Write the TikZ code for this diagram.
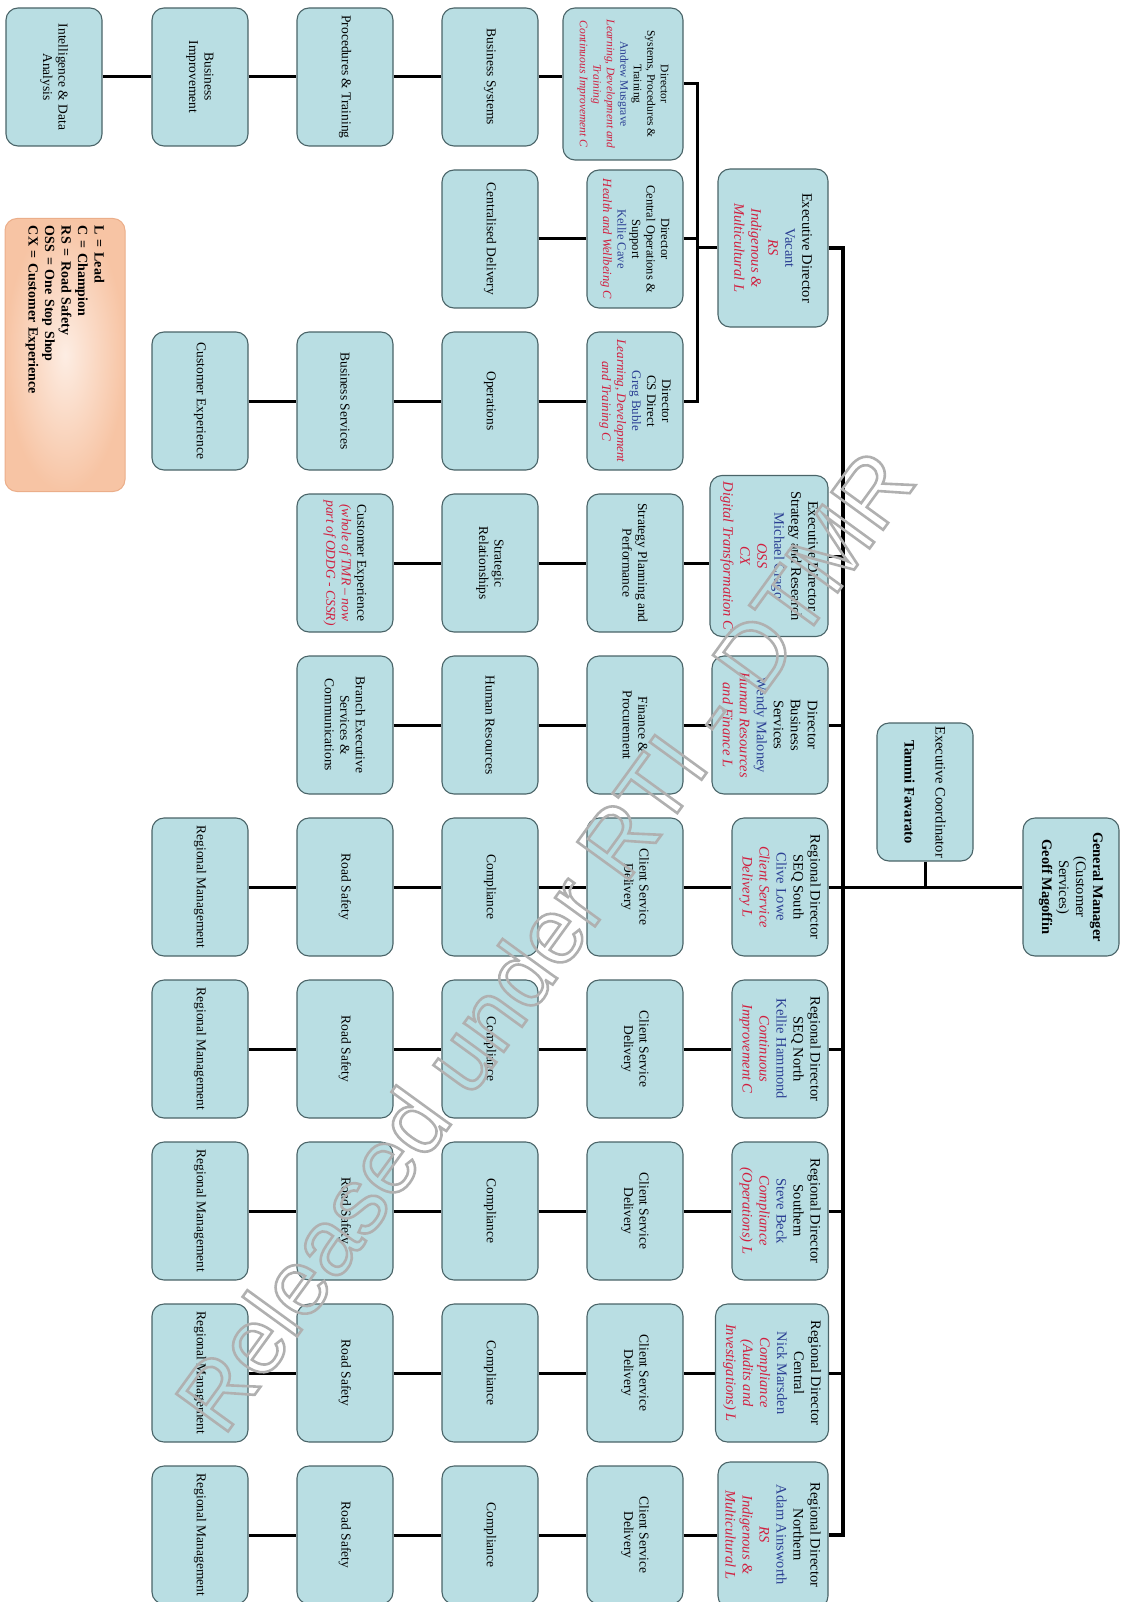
\documentclass[tikz,border=0pt]{standalone}
\usepackage{fontspec}
\setmainfont{Liberation Serif}
\newfontfamily\wmfont{Liberation Sans}
\definecolor{boxfill}{HTML}{B9DEE3}
\definecolor{edge}{HTML}{4A6468}
\definecolor{nameblue}{HTML}{2B3F93}
\definecolor{dutyred}{HTML}{D11F3F}
\definecolor{keylite}{HTML}{FDEDE3}
\definecolor{keydark}{HTML}{F7C4A4}
\definecolor{keyedge}{HTML}{EBAE8A}
\definecolor{wmgray}{HTML}{B0B0B0}
\newcommand{\who}[1]{\textcolor{nameblue}{#1}}
\newcommand{\duty}[1]{\textcolor{dutyred}{\itshape #1}}
\newcommand{\outlined}[1]{\special{pdf:literal direct 1 Tr 2.6 w}#1\special{pdf:literal direct 0 Tr}}
\tikzset{unit/.style={draw=edge,line width=1.1pt,fill=boxfill,rounded corners=12pt,rotate=-90,align=center,minimum width=138pt,minimum height=96pt,inner sep=3pt,font=\fontsize{13.5}{15.5}\selectfont},head/.style={unit,font=\fontsize{14.5}{17}\selectfont},link/.style={line width=3pt},trunk/.style={line width=4pt},keybox/.style={draw=keyedge,line width=1pt,rounded corners=12pt,inner color=keylite,outer color=keydark,rotate=-90,minimum width=273pt,minimum height=120pt,text width=258pt,align=left,font=\bfseries\fontsize{14}{16.5}\selectfont},wmark/.style={rotate=54,text=wmgray,font=\wmfont\fontsize{93}{93}\selectfont}}

\begin{document}
\begin{tikzpicture}[x=1pt,y=-1pt]
\useasboundingbox (0,0) rectangle (1121,1602);
\coordinate (spine) at (843,0);
\coordinate (sub) at (697,0);

\node[head] (gm) at (1071,887) {\textbf{General Manager}\\(Customer\\Services)\\\textbf{Geoff Magoffin}};
\node[head] (ec) at (925,792) {Executive Coordinator\\[14pt]\textbf{Tammi Favarato}};

\node[head,minimum width=158pt,minimum height=110pt] (edvac) at (773,248) {Executive Director\\\who{Vacant}\\\duty{RS}\\\duty{Indigenous \&}\\\duty{Multicultural L}};
\node[head,minimum width=161pt,minimum height=118pt] (edstr) at (769,556) {Executive Director\\Strategy and Research\\\who{Michael Crago}\\\duty{OSS}\\\duty{CX}\\\duty{Digital Transformation C}};
\node[head,minimum height=116pt] (dirbs) at (770,725) {Director\\Business\\Services\\\who{Wendy Maloney}\\\duty{Human Resources}\\\duty{and Finance L}};
\node[head] (rd6) at (780,887) {Regional Director\\SEQ South\\\who{Clive Lowe}\\\duty{Client Service}\\\duty{Delivery L}};
\node[head] (rd7) at (780,1049) {Regional Director\\SEQ North\\\who{Kellie Hammond}\\\duty{Continuous}\\\duty{Improvement C}};
\node[head] (rd8) at (780,1211) {Regional Director\\Southern\\\who{Steve Beck}\\\duty{Compliance}\\\duty{(Operations) L}};
\node[head,minimum height=113pt] (rd9) at (772,1373) {Regional Director\\Central\\\who{Nick Marsden}\\\duty{Compliance}\\\duty{(Audits and}\\\duty{Investigations) L}};
\node[head,minimum width=146pt,minimum height=110pt] (rd10) at (773,1535) {Regional Director\\Northern\\\who{Adam Ainsworth}\\\duty{RS}\\\duty{Indigenous \&}\\\duty{Multicultural L}};

\node[head,font=\fontsize{11.5}{13.5}\selectfont,minimum width=152pt,minimum height=120pt] (dirsys) at (623,84) {Director\\Systems, Procedures \&\\Training\\\who{Andrew Musgrave}\\\duty{Learning, Development and}\\\duty{Training}\\\duty{Continuous Improvement C}};
\node[head,font=\fontsize{12.5}{14.5}\selectfont] (dircos) at (635,239) {Director\\Central Operations \&\\Support\\\who{Kellie Cave}\\\duty{Health and Wellbeing C}};
\node[head,font=\fontsize{13}{15}\selectfont] (dircsd) at (635,401) {Director\\CS Direct\\\who{Greg Buble}\\\duty{Learning, Development}\\\duty{and Training C}};

\node[unit] (stratpl) at (635,563) {Strategy Planning and\\Performance};
\node[unit] (finpro) at (635,725) {Finance \&\\Procurement};
\node[unit] (bussys) at (490,77) {Business Systems};
\node[unit] (proctr) at (345,77) {Procedures \& Training};
\node[unit] (busimp) at (200,77) {Business\\Improvement};
\node[unit] (intel) at (54,77) {Intelligence \& Data\\Analysis};
\node[unit] (centdel) at (490,239) {Centralised Delivery};
\node[unit] (ops) at (490,401) {Operations};
\node[unit] (bussrv) at (345,401) {Business Services};
\node[unit] (custx) at (200,401) {Customer Experience};
\node[unit] (stratrel) at (490,563) {Strategic\\Relationships};
\node[unit] (custwhole) at (345,563) {Customer Experience\\\duty{(whole of TMR -- now}\\\duty{part of ODDG - CSSR)}};
\node[unit] (hr) at (490,725) {Human Resources};
\node[unit] (branch) at (345,725) {Branch Executive\\Services \&\\Communications};

\foreach \k/\y in {6/887,7/1049,8/1211,9/1373,10/1535}{
  \node[unit] (csd\k) at (635,\y) {Client Service\\Delivery};
  \node[unit] (comp\k) at (490,\y) {Compliance};
  \node[unit] (rs\k) at (345,\y) {Road Safety};
  \node[unit] (rm\k) at (200,\y) {Regional Management};
  \draw[link] (rm\k) -- (rs\k) -- (comp\k) -- (csd\k) -- (rd\k);
}

\foreach \a/\b in {dirsys/bussys,bussys/proctr,proctr/busimp,busimp/intel,dircos/centdel,dircsd/ops,ops/bussrv,bussrv/custx,edstr/stratpl,stratpl/stratrel,stratrel/custwhole,dirbs/finpro,finpro/hr,hr/branch}
  \draw[link] (\b) -- (\b -| \a.south);

\draw[trunk] (edvac.north) -| (spine |- rd10.north) -- (rd10.north);
\foreach \n in {edstr,dirbs,rd6,rd7,rd8,rd9}
  \draw[link] (\n.north) -- (\n.north -| spine);
\draw[link] (gm.south) -- (gm.south -| spine);
\draw[link] (ec.east) -- (ec.east |- gm.south);

\draw[link] (dirsys.north) -| (sub |- dircsd.north) -- (dircsd.north);
\draw[link] (dircos.north) -- (dircos.north -| sub);
\draw[link] (edvac.south) -- (edvac.south -| sub);

\node[keybox] (key) at (65,355) {L = Lead\\C = Champion\\RS = Road Safety\\OSS = One Stop Shop\\CX = Customer Experience};

\node[wmark] (wm) at (544,940) {\outlined{Released under RTI - DTMR}};
\end{tikzpicture}
\end{document}
